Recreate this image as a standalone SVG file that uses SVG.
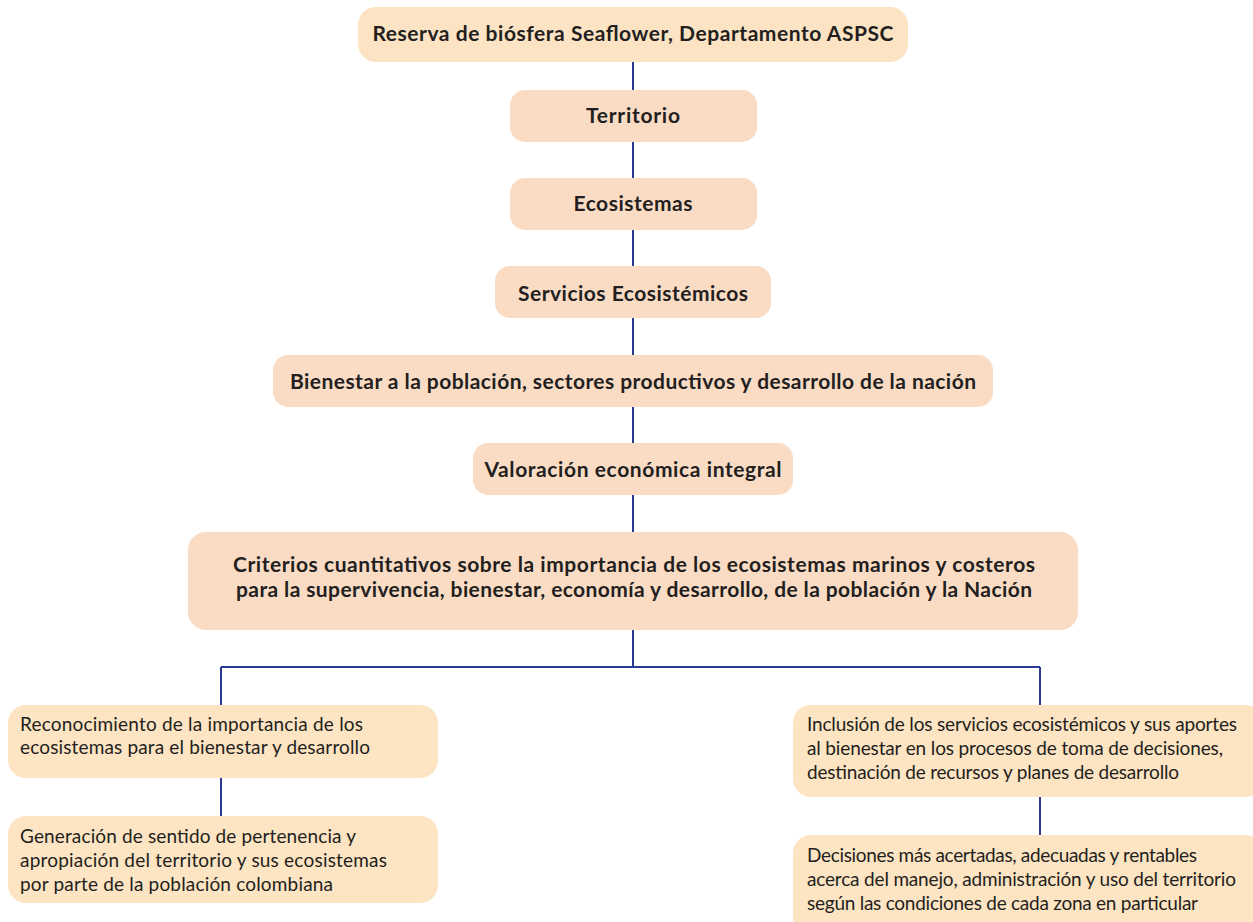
<svg xmlns="http://www.w3.org/2000/svg" width="1253" height="922" viewBox="0 0 1253 922">
<style>
.top{fill:#FCE3C3}
.pk{fill:#FADCC5}
.lo{fill:#FDE4C3}
.b{font-family:Lato,"Liberation Sans",sans-serif;font-weight:bold;font-size:21px;fill:#231F20;text-anchor:middle}
.r{font-family:Lato,"Liberation Sans",sans-serif;font-size:19px;fill:#231F20}
.ln{stroke:#2B3990;stroke-width:2;fill:none}
</style>
<rect width="1253" height="922" fill="#fff"/>
<g id="connectors">
<path class="ln" d="M633 62V90M633 142V178M633 230V266M633 318V355M633 407V443M633 495V532M633 630V667M221 667H1040M221 667V705M1040 667V705M221 778V816M1040 797V835"/>
</g>
<g id="n1"><rect class="top" x="358" y="7" width="550" height="55" rx="18"/><text class="b" x="633" y="41" textLength="521" lengthAdjust="spacing">Reserva de biósfera Seaflower, Departamento ASPSC</text></g>
<g id="n2"><rect class="pk" x="510" y="90" width="247" height="52" rx="15"/><text class="b" x="633" y="123" textLength="94" lengthAdjust="spacing">Territorio</text></g>
<g id="n3"><rect class="pk" x="510" y="178" width="247" height="52" rx="15"/><text class="b" x="633" y="211" textLength="119" lengthAdjust="spacing">Ecosistemas</text></g>
<g id="n4"><rect class="pk" x="495" y="266" width="276" height="52" rx="15"/><text class="b" x="633" y="301" textLength="230" lengthAdjust="spacing">Servicios Ecosistémicos</text></g>
<g id="n5"><rect class="pk" x="273" y="355" width="720" height="52" rx="15"/><text class="b" x="633" y="389" textLength="686" lengthAdjust="spacing">Bienestar a la población, sectores productivos y desarrollo de la nación</text></g>
<g id="n6"><rect class="pk" x="473" y="443" width="320" height="52" rx="15"/><text class="b" x="633" y="477" textLength="297" lengthAdjust="spacing">Valoración económica integral</text></g>
<g id="n7"><rect class="pk" x="188" y="532" width="890" height="98" rx="18"/><text class="b" x="634" y="572" textLength="802" lengthAdjust="spacing">Criterios cuantitativos sobre la importancia de los ecosistemas marinos y costeros</text><text class="b" x="634" y="597" textLength="796" lengthAdjust="spacing">para la supervivencia, bienestar, economía y desarrollo, de la población y la Nación</text></g>
<g id="n8"><rect class="lo" x="8" y="705" width="430" height="73" rx="18"/><text class="r" x="20" y="731" textLength="343" lengthAdjust="spacing">Reconocimiento de la importancia de los</text><text class="r" x="20" y="754" textLength="350" lengthAdjust="spacing">ecosistemas para el bienestar y desarrollo</text></g>
<g id="n9"><rect class="lo" x="8" y="816" width="430" height="87" rx="18"/><text class="r" x="20" y="843" textLength="336" lengthAdjust="spacing">Generación de sentido de pertenencia y</text><text class="r" x="20" y="867" textLength="367" lengthAdjust="spacing">apropiación del territorio y sus ecosistemas</text><text class="r" x="20" y="891" textLength="313" lengthAdjust="spacing">por parte de la población colombiana</text></g>
<g id="n10"><rect class="lo" x="793" y="705" width="470" height="92" rx="18"/><text class="r" x="807" y="731" textLength="430" lengthAdjust="spacing">Inclusión de los servicios ecosistémicos y sus aportes</text><text class="r" x="807" y="755" textLength="416" lengthAdjust="spacing">al bienestar en los procesos de toma de decisiones,</text><text class="r" x="807" y="779" textLength="372" lengthAdjust="spacing">destinación de recursos y planes de desarrollo</text></g>
<g id="n11"><rect class="lo" x="793" y="835" width="470" height="100" rx="18"/><text class="r" x="807" y="862" textLength="390" lengthAdjust="spacing">Decisiones más acertadas, adecuadas y rentables</text><text class="r" x="807" y="886" textLength="429" lengthAdjust="spacing">acerca del manejo, administración y uso del territorio</text><text class="r" x="807" y="910" textLength="391" lengthAdjust="spacing">según las condiciones de cada zona en particular</text></g>
</svg>
